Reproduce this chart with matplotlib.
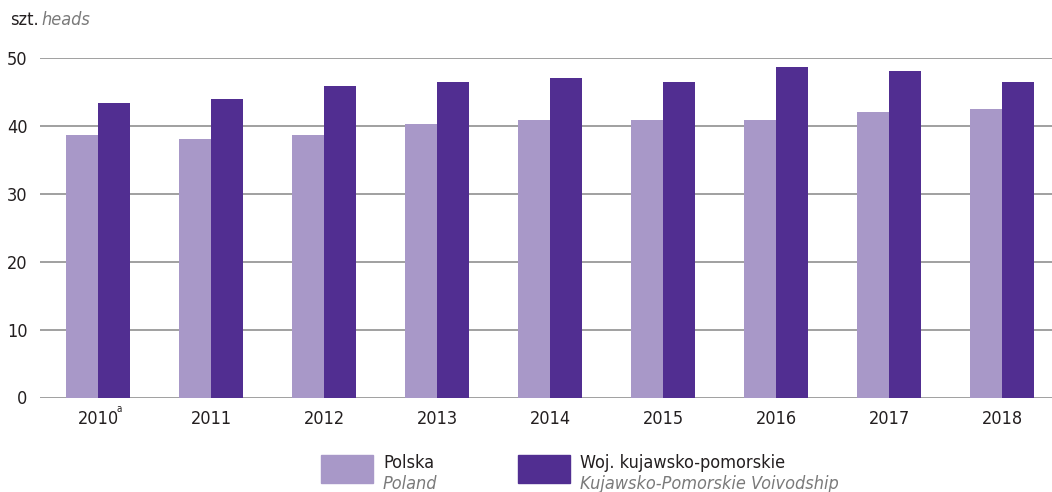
import matplotlib
matplotlib.use("Agg")
import matplotlib.pyplot as plt
import matplotlib.font_manager as fm
from matplotlib.patches import Rectangle
import numpy as np

years = ["2010", "2011", "2012", "2013", "2014", "2015", "2016", "2017", "2018"]
polska = [38.7, 38.1, 38.7, 40.3, 40.8, 40.8, 40.8, 42.0, 42.5]
kujawsko_pomorskie = [43.4, 44.0, 45.9, 46.5, 47.0, 46.4, 48.6, 48.0, 46.4]
yticks = [0, 10, 20, 30, 40, 50]

c_pl = "#a898c8"
c_kp = "#512e91"
txt = "#231f20"
grey_txt = "#7a7a7a"


def narrow_font(italic=False):
    """Return a FontProperties for a condensed face if one is installed."""
    want = "italic" if italic else "normal"
    pool = [f for f in fm.fontManager.ttflist
            if ("Narrow" in f.name or "Condensed" in f.name
                or f.stretch in ("condensed", "semi-condensed", "extra-condensed"))
            and f.style in ((want, "oblique") if italic else (want,))
            and f.weight in (400, "normal", "regular")]
    pref = ["Liberation Sans Narrow", "DejaVu Sans", "Roboto Condensed", "Open Sans"]
    pool.sort(key=lambda f: pref.index(f.name) if f.name in pref else 99)
    if pool:
        return fm.FontProperties(fname=pool[0].fname)
    return fm.FontProperties(family="DejaVu Sans", style=want)


fp = narrow_font(False)
fpi = narrow_font(True)
FS = 13

W, H = 1052, 492
fig = plt.figure(figsize=(W / 100, H / 100), dpi=100)

# axes box in pixel units
x0, x1 = 40, 1052
y_bottom, y_top = 397.5, 57.8
ax = fig.add_axes([x0 / W, (H - y_bottom) / H, (x1 - x0) / W, (y_bottom - y_top) / H])

x = np.arange(len(years))
bw = 0.285
ax.bar(x - bw / 2, polska, width=bw, color=c_pl, zorder=3)
ax.bar(x + bw / 2, kujawsko_pomorskie, width=bw, color=c_kp, zorder=3)

step = 113.0
ax.set_xlim(-(98 - x0) / step, (x1 - 98) / step)
ax.set_ylim(0, 50)

for s in ax.spines.values():
    s.set_visible(False)
ax.set_yticks(yticks)
ax.yaxis.grid(True, color="#a0a0a0", linewidth=1.4, zorder=0)
ax.tick_params(axis="both", length=0, colors=txt)
ax.tick_params(axis="y", pad=9)
ax.tick_params(axis="x", pad=9)
ax.set_xticks(x)
ax.set_yticklabels([str(v) for v in yticks], fontproperties=fp, fontsize=FS)
ax.set_xticklabels(years, fontproperties=fp, fontsize=FS)
ax.set_axisbelow(True)

# footnote marker on the first year
ax.annotate("a", xy=(x[0], 0), xycoords=("data", "axes fraction"),
            xytext=(15.5, -8), textcoords="offset points",
            fontproperties=fp, fontsize=7, color=txt, ha="center", va="center")

# unit label
fig.text(10 / W, 1 - 20 / H, "szt.", fontproperties=fp, fontsize=FS, color=txt,
         va="center", ha="left")
fig.text(41 / W, 1 - 20 / H, "heads", fontproperties=fpi, fontsize=FS,
         color=grey_txt, va="center", ha="left")


# legend
def legend_item(px, name, name_en, color):
    fig.patches.append(Rectangle((px / W, 1 - 483 / H), 52 / W, 28 / H,
                                 transform=fig.transFigure, color=color))
    fig.text((px + 62) / W, 1 - 463 / H, name, fontproperties=fp, fontsize=FS,
             color=txt, va="center", ha="left")
    fig.text((px + 62) / W, 1 - 484 / H, name_en, fontproperties=fpi, fontsize=FS,
             color=grey_txt, va="center", ha="left")


legend_item(321, "Polska", "Poland", c_pl)
legend_item(518, "Woj. kujawsko-pomorskie", "Kujawsko-Pomorskie Voivodship", c_kp)

fig.savefig("out.png", dpi=100)
